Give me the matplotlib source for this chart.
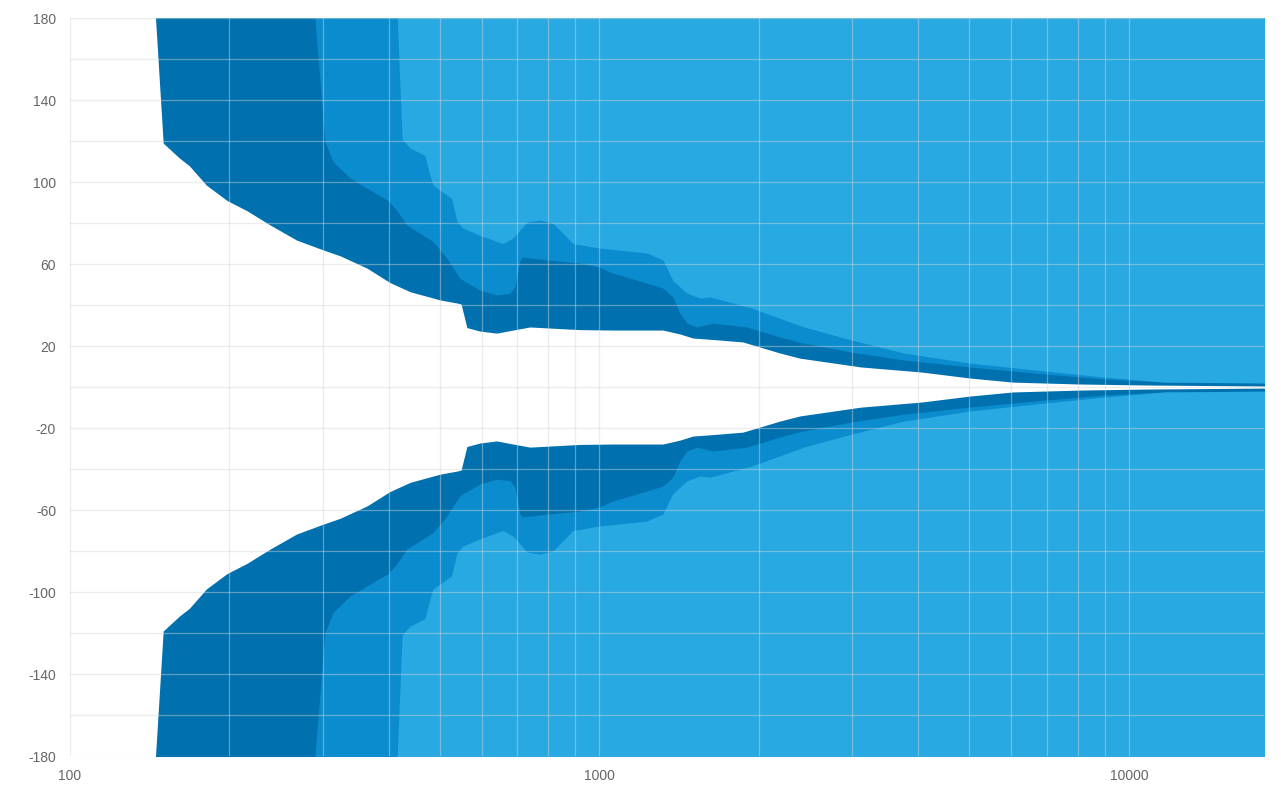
import numpy as np
import matplotlib
matplotlib.use('Agg')
import matplotlib.pyplot as plt
from matplotlib.ticker import FixedLocator, NullFormatter

plt.rcParams['axes.unicode_minus'] = False

# outer (dark) band edge: frequency (Hz) / value
dark_f = [145, 150, 161, 168, 181, 198, 216, 239, 268, 300, 324, 364, 402, 439,
          500, 538, 548, 562, 595, 640, 687, 739, 919, 1060, 1318, 1419, 1502,
          1638, 1866, 2193, 2391, 3118, 4066, 5008, 6040, 8011, 10629, 18065]
dark_v = [181, 119, 111.7, 108, 98.5, 91, 86, 79, 71.7, 67, 64, 58, 51, 46.5,
          42.5, 41, 40.5, 29, 27.3, 26.3, 27.8, 29.3, 28, 27.8, 27.8, 25.9, 23.9,
          23.2, 22, 16.6, 14.1, 9.8, 7.3, 4.4, 2.4, 1.5, 1.0, 0.5]

# middle band edge
mid_f = [290, 303, 314, 338, 364, 399, 415, 433, 485, 515, 545, 595, 640, 678,
         692, 708, 717, 796, 919, 1000, 1060, 1229, 1318, 1376, 1419, 1463, 1528,
         1638, 1899, 2193, 2391, 2999, 3760, 5008, 6644, 8972, 11695, 18065]
mid_v = [181, 120, 110, 102, 97, 91, 86, 79, 71, 63, 53, 47.3, 44.9, 45.8,
         48.8, 62, 63.4, 62, 60.5, 58.5, 55.6, 50.7, 48.3, 44, 36, 31.2, 29.3,
         31.2, 29.3, 24.4, 21.8, 17, 13.2, 9.8, 6.8, 3.9, 2.4, 2]

# inner (light) band edge
light_f = [415, 424, 439, 468, 479, 485, 526, 538, 552, 595, 657, 687, 730, 772,
           817, 891, 1000, 1229, 1318, 1376, 1463, 1548, 1617, 1941, 2434, 2999,
           3760, 5008, 6644, 8972, 11695, 18065]
light_v = [181, 121, 116.6, 113, 103, 98.5, 92, 81, 77.6, 74, 70, 72.7, 80.5, 81.5,
           80, 70, 67.8, 65.4, 62, 52, 45.8, 43.4, 44, 38.5, 29.3, 22.9,
           16.6, 11.7, 8.3, 4.9, 2.4, 2]

colors = ['#0071AE', '#0B8CCF', '#29A9E1']

fig = plt.figure(figsize=(12.81, 7.85), dpi=100)
ax = fig.add_axes([0.0546, 0.0369, 0.9321, 0.9401])

for f, v, c in zip([dark_f, mid_f, light_f], [dark_v, mid_v, light_v], colors):
    f = np.array(f)
    v = np.array(v)
    ax.fill_between(f, v, 200, color=c, linewidth=0)
    ax.fill_between(f, -v, -200, color=c, linewidth=0)

ax.set_xscale('log')
ax.set_xlim(100, 18000)
ax.set_ylim(-180, 180)

ax.xaxis.set_major_locator(FixedLocator([100, 1000, 10000]))
ax.xaxis.set_minor_locator(FixedLocator([m * d for d in (100, 1000, 10000) for m in range(2, 10)]))
ax.xaxis.set_minor_formatter(NullFormatter())
ax.set_xticklabels(['100', '1000', '10000'])

ax.yaxis.set_major_locator(FixedLocator([-180, -140, -100, -60, -20, 20, 60, 100, 140, 180]))
ax.yaxis.set_minor_locator(FixedLocator([-160, -120, -80, -40, 0, 40, 80, 120, 160]))

ax.set_axisbelow(False)
ax.grid(True, which='both', color='#d6d6d6', alpha=0.45, linewidth=0.9)

for s in ax.spines.values():
    s.set_visible(False)

ax.tick_params(which='both', length=0, colors='#666666', labelsize=10)
ax.tick_params(axis='y', pad=10)
ax.tick_params(axis='x', pad=9)
for lab in ax.get_xticklabels() + ax.get_yticklabels():
    lab.set_fontfamily('Liberation Sans')

fig.savefig('out.png', dpi=100)
